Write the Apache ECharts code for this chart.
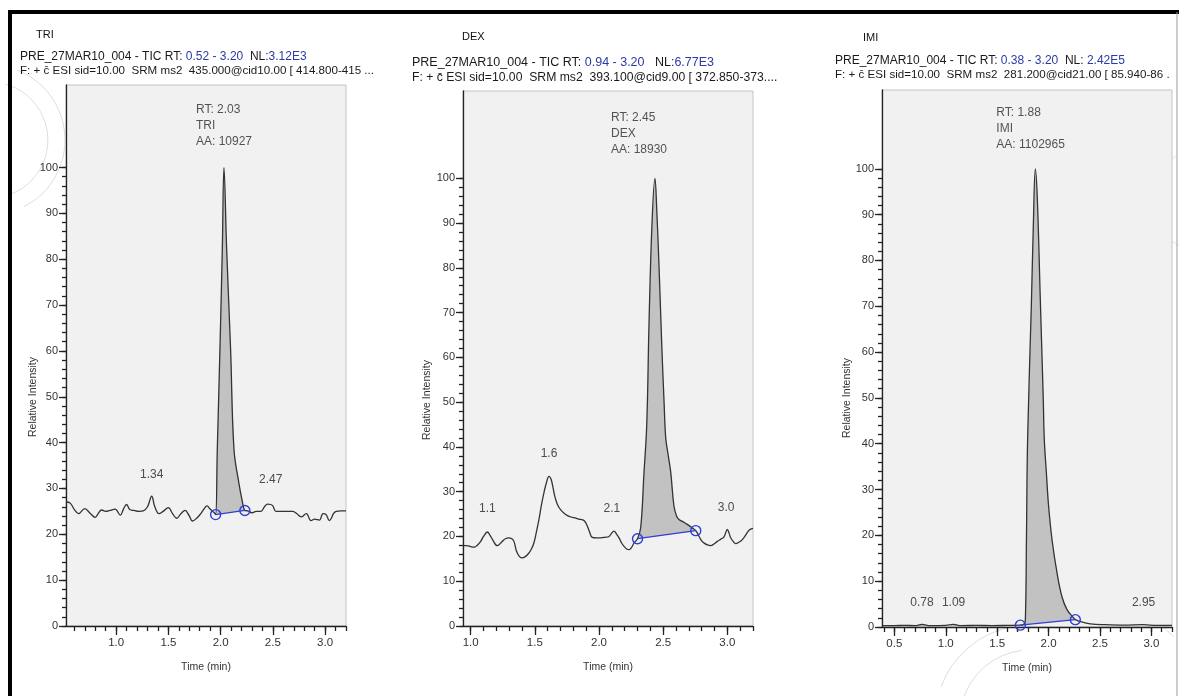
<!DOCTYPE html>
<html>
<head>
<meta charset="utf-8">
<script src="https://cdn.jsdelivr.net/npm/echarts@6/dist/echarts.min.js"></script>
<style>
html,body{margin:0;padding:0;background:#fff;}
#chart{width:1179px;height:696px;}
</style>
</head>
<body>
<div id="chart"></div>
<script>
// ---------------- DATA ----------------
// Tick labels
var triXLabels = [1.0, 1.5, 2.0, 2.5, 3.0];
var dexXLabels = [1.0, 1.5, 2.0, 2.5, 3.0];
var imiXLabels = [0.5, 1.0, 1.5, 2.0, 2.5, 3.0];
var yLabels = [0, 10, 20, 30, 40, 50, 60, 70, 80, 90, 100];

// TRI chromatogram [time(min), relative intensity]
var triTrace = [
  [0.52,27.1],[0.56,26.8],[0.60,25.4],[0.64,24.5],[0.70,25.6],[0.75,24.6],[0.80,23.7],[0.83,24.6],
  [0.86,25.3],[0.90,25.0],[0.94,25.2],[0.99,25.5],[1.04,24.2],[1.07,25.5],[1.10,26.5],[1.13,25.4],
  [1.17,25.2],[1.22,25.0],[1.26,25.1],[1.30,26.0],[1.34,28.3],[1.37,26.0],[1.41,24.5],[1.45,25.0],
  [1.50,25.8],[1.54,24.5],[1.58,23.5],[1.62,24.5],[1.66,25.2],[1.70,24.0],[1.73,22.9],[1.77,23.5],
  [1.81,24.5],[1.84,25.5],[1.87,26.2],[1.90,25.5],[1.935,24.8],[1.952,24.3],[1.968,38.5],[1.993,60],
  [2.016,82],[2.032,100],[2.058,82],[2.096,60],[2.128,38.5],[2.176,31],[2.205,27.5],[2.232,25.2],
  [2.26,25.1],[2.30,24.7],[2.34,25.0],[2.385,25.0],[2.42,26.0],[2.45,26.6],[2.48,26.5],[2.50,26.2],
  [2.53,25.0],[2.58,25.0],[2.64,25.0],[2.69,25.0],[2.73,24.5],[2.77,23.8],[2.82,24.5],[2.865,23.0],
  [2.90,23.3],[2.945,23.1],[2.98,24.5],[3.01,24.3],[3.04,23.0],[3.06,23.5],[3.08,24.5],[3.106,25.0],
  [3.15,25.1],[3.20,25.1]
];
var triBase = [[1.952,24.3],[2.232,25.2]];
var triPeakLabels = [{t:1.34, v:33, text:'1.34'}, {t:2.48, v:32, text:'2.47'}];
var triApex = [2.032, 100];
var triInfo = 'RT: 2.03\nTRI\nAA: 10927';

// DEX chromatogram
var dexTrace = [
  [0.94,18.0],[0.98,17.9],[1.026,17.6],[1.05,18.0],[1.078,18.9],[1.10,20.0],[1.13,21.0],[1.15,20.3],
  [1.17,19.3],[1.207,17.95],[1.246,18.9],[1.27,19.5],[1.298,19.7],[1.32,19.5],[1.337,18.9],[1.363,16.3],
  [1.40,15.2],[1.425,15.5],[1.454,16.3],[1.475,17.3],[1.493,18.6],[1.512,21.0],[1.532,23.8],[1.551,27.0],
  [1.571,29.8],[1.59,32.0],[1.61,33.4],[1.625,32.9],[1.636,31.7],[1.655,29.0],[1.675,27.2],[1.70,26.0],
  [1.74,24.9],[1.775,24.4],[1.805,24.2],[1.83,24.0],[1.857,23.8],[1.875,23.7],[1.896,23.1],[1.92,21.5],
  [1.948,19.8],[1.98,19.7],[2.013,19.7],[2.045,19.8],[2.078,20.0],[2.10,20.8],[2.117,21.2],[2.135,20.6],
  [2.156,19.7],[2.175,18.6],[2.195,17.8],[2.215,17.2],[2.234,17.05],[2.255,17.6],[2.273,18.55],[2.30,19.5],
  [2.325,22],[2.35,34],[2.372,45],[2.39,68],[2.413,90],[2.436,100],[2.45,93],[2.468,80],[2.49,62],
  [2.507,50],[2.52,42],[2.54,38],[2.559,34.3],[2.584,26.8],[2.605,24.5],[2.623,23.8],[2.66,23.2],
  [2.688,22.7],[2.727,21.9],[2.754,21.3],[2.779,20.05],[2.80,19.0],[2.818,18.55],[2.845,18.1],[2.87,17.95],
  [2.895,18.3],[2.922,18.9],[2.95,19.4],[2.974,19.9],[3.0,21.55],[3.013,20.8],[3.026,19.7],[3.045,18.9],
  [3.065,18.4],[3.09,18.7],[3.117,19.3],[3.145,20.4],[3.169,21.4],[3.20,21.8]
];
var dexBase = [[2.30,19.5],[2.754,21.3]];
var dexPeakLabels = [{t:1.13, v:26.1, text:'1.1'}, {t:1.61, v:38.4, text:'1.6'}, {t:2.10, v:26.1, text:'2.1'}, {t:2.99, v:26.5, text:'3.0'}];
var dexApex = [2.436, 100];
var dexInfo = 'RT: 2.45\nDEX\nAA: 18930';

// IMI chromatogram
var imiTrace = [
  [0.38,0.3],[0.5,0.3],[0.6,0.35],[0.7,0.3],[0.768,0.55],[0.85,0.3],[1.0,0.35],[1.076,0.55],
  [1.15,0.3],[1.3,0.35],[1.45,0.3],[1.6,0.35],[1.725,0.4],[1.76,0.6],[1.774,1.5],[1.785,20],
  [1.796,41],[1.832,70],[1.852,88],[1.871,100],[1.89,93.7],[1.919,71.8],[1.948,49.9],[1.958,41],
  [1.978,33.8],[2.0,26.4],[2.033,19.1],[2.082,11.8],[2.13,6.6],[2.179,3.8],[2.243,2.0],[2.26,1.6],
  [2.32,1.1],[2.406,0.7],[2.55,0.5],[2.73,0.4],[2.924,0.5],[3.05,0.35],[3.2,0.35]
];
var imiBase = [[1.725,0.4],[2.26,1.6]];
var imiPeakLabels = [{t:0.768, v:5.3, text:'0.78'}, {t:1.076, v:5.3, text:'1.09'}, {t:2.924, v:5.3, text:'2.95'}];
var imiApex = [1.871, 100];
var imiInfo = 'RT: 1.88\nIMI\nAA: 1102965';

// Header texts
var triHeader = ['TRI', 'PRE_27MAR10_004 - TIC RT: ', '0.52 - 3.20', '  NL:', '3.12E3',
  'F: + c\u0304 ESI sid=10.00  SRM ms2  435.000@cid10.00 [ 414.800-415 ...'];
var dexHeader = ['DEX', 'PRE_27MAR10_004 - TIC RT: ', '0.94 - 3.20', '   NL:', '6.77E3',
  'F: + c\u0304 ESI sid=10.00  SRM ms2  393.100@cid9.00 [ 372.850-373....'];
var imiHeader = ['IMI', 'PRE_27MAR10_004 - TIC RT: ', '0.38 - 3.20', '  NL: ', '2.42E5',
  'F: + c\u0304 ESI sid=10.00  SRM ms2  281.200@cid21.00 [ 85.940-86 .'];

// ---------------- LAYOUT ----------------
var FONT = '"Liberation Sans", Arial, sans-serif';
var minorX = [];
for (var k = 3; k <= 32; k++) minorX.push(k / 10);
var minorY = [];
for (var m = 0; m <= 100; m += 2) minorY.push(m);

var panels = [
  {grid:{left:66, top:85, width:280, height:541}, xMin:0.52, xMax:3.20, yMax:118, xLabels:triXLabels,
   trace:triTrace, base:triBase, peaks:triPeakLabels, apex:triApex, info:triInfo, infoOffset:[-28,-12],
   header:triHeader, hx:[36,20], hy:[35,57,71], yNameX:33, yNameY:397, hFont:[12, 11.6]},
  {grid:{left:463, top:91, width:290, height:535}, xMin:0.94, xMax:3.20, yMax:119.5, xLabels:dexXLabels,
   trace:dexTrace, base:dexBase, peaks:dexPeakLabels, apex:dexApex, info:dexInfo, infoOffset:[-44,-15],
   header:dexHeader, hx:[462,412], hy:[37,63,78], yNameX:427, yNameY:400, hFont:[12.5, 12.2]},
  {grid:{left:882, top:90, width:290, height:537}, xMin:0.38, xMax:3.20, yMax:117.2, xLabels:imiXLabels,
   trace:imiTrace, base:imiBase, peaks:imiPeakLabels, apex:imiApex, info:imiInfo, infoOffset:[-39,-11],
   header:imiHeader, hx:[863,835], hy:[38,61,75], yNameX:847, yNameY:398, hFont:[12, 11.6]}
];

var grids = [], xAxes = [], yAxes = [], series = [], graphics = [];
var axisColor = '#222';

panels.forEach(function (p, i) {
  grids.push({left:p.grid.left, top:p.grid.top, width:p.grid.width, height:p.grid.height,
    show:true, backgroundColor:'#f1f1f1', borderColor:'#c4c4c4', borderWidth:1});
  xAxes.push({gridIndex:i, type:'value', min:p.xMin, max:p.xMax, position:'bottom',
    axisLine:{show:true, onZero:false, lineStyle:{color:axisColor, width:1.3}},
    axisTick:{show:true, customValues:p.xLabels, length:9, lineStyle:{color:axisColor, width:1.3}},
    axisLabel:{show:true, customValues:p.xLabels, formatter:function(v){return Number(v).toFixed(1);},
      margin:11, fontSize:11.5, color:'#333', fontFamily:FONT},
    splitLine:{show:false},
    name:'Time (min)', nameLocation:'middle', nameGap:36,
    nameTextStyle:{fontSize:10.5, color:'#333', fontFamily:FONT}});
  xAxes.push({gridIndex:i, type:'value', min:p.xMin, max:p.xMax, position:'bottom',
    axisLine:{show:false}, axisLabel:{show:false}, splitLine:{show:false},
    axisTick:{show:true, customValues:minorX.filter(function(v){return v>=p.xMin && v<=p.xMax;}), length:5,
      lineStyle:{color:axisColor, width:1.3}}});
  yAxes.push({gridIndex:i, type:'value', min:0, max:p.yMax, position:'left',
    axisLine:{show:true, onZero:false, lineStyle:{color:axisColor, width:1.3}},
    axisTick:{show:true, customValues:yLabels, length:7, lineStyle:{color:axisColor, width:1.3}},
    axisLabel:{show:true, customValues:yLabels, margin:8, fontSize:11, color:'#333', fontFamily:FONT},
    splitLine:{show:false}});
  yAxes.push({gridIndex:i, type:'value', min:0, max:p.yMax, position:'left',
    axisLine:{show:false}, axisLabel:{show:false}, splitLine:{show:false},
    axisTick:{show:true, customValues:minorY, length:4, lineStyle:{color:axisColor, width:1.3}}});

  var xi = i * 2, yi = i * 2;
  (function (trace, base) {
    series.push({type:'custom', xAxisIndex:xi, yAxisIndex:yi, z:1, clip:true, silent:true,
      data:[base[0]],
      renderItem:function (params, api) {
        var pts = [];
        trace.forEach(function (d) {
          if (d[0] >= base[0][0] && d[0] <= base[1][0]) pts.push(api.coord(d));
        });
        pts.push(api.coord(base[1]));
        pts.push(api.coord(base[0]));
        return {type:'polygon', shape:{points:pts}, style:{fill:'#c2c2c2', stroke:null}};
      }});
  })(p.trace, p.base);
  series.push({type:'line', xAxisIndex:xi, yAxisIndex:yi, z:3, data:p.trace, showSymbol:false,
    smooth:0.4, lineStyle:{color:'#333', width:1.3}, silent:true});
  series.push({type:'line', xAxisIndex:xi, yAxisIndex:yi, z:4, data:p.base, symbol:'circle', symbolSize:10,
    showSymbol:true, lineStyle:{color:'#2d3fd6', width:1.2},
    itemStyle:{color:'rgba(0,0,0,0)', borderColor:'#2d3fd6', borderWidth:1.4}, silent:true});
  series.push({type:'scatter', xAxisIndex:xi, yAxisIndex:yi, z:5, symbolSize:1, silent:true,
    itemStyle:{color:'rgba(0,0,0,0)'},
    data:p.peaks.map(function (d) { return {value:[d.t, d.v], name:d.text}; }),
    label:{show:true, position:'inside', formatter:'{b}', fontSize:12, color:'#222', fontFamily:FONT}});
  series.push({type:'scatter', xAxisIndex:xi, yAxisIndex:yi, z:5, symbolSize:1, silent:true,
    itemStyle:{color:'rgba(0,0,0,0)'},
    data:[{value:p.apex, name:p.info}],
    label:{show:true, position:'top', align:'left', verticalAlign:'bottom', offset:p.infoOffset,
      formatter:'{b}', fontSize:12, lineHeight:16, color:'#2a2a2a', fontFamily:FONT}});

  var h = p.header;
  var f1 = p.hFont[0] + 'px ' + FONT, f2 = p.hFont[1] + 'px ' + FONT;
  graphics.push({type:'text', x:p.hx[0], y:p.hy[0], style:{text:h[0], font:'11px ' + FONT, fill:'#111',
    textVerticalAlign:'middle'}});
  graphics.push({type:'text', x:p.hx[1], y:p.hy[1], style:{
    text:'{a|' + h[1] + '}{b|' + h[2] + '}{a|' + h[3] + '}{b|' + h[4] + '}',
    textVerticalAlign:'middle', font:f1,
    rich:{a:{fill:'#1a1a1a', font:f1}, b:{fill:'#2b3aa6', font:f1}}}});
  graphics.push({type:'text', x:p.hx[1], y:p.hy[2], style:{text:h[5], font:f2, fill:'#1a1a1a',
    textVerticalAlign:'middle'}});
  graphics.push({type:'text', x:p.yNameX, y:p.yNameY, rotation:Math.PI / 2, style:{text:'Relative Intensity',
    font:'10.5px ' + FONT, fill:'#333', textAlign:'center', textVerticalAlign:'middle'}});
});

// faint scan artefact arcs (background decoration)
var arcStyle = {stroke:'#dedede', lineWidth:1, fill:null};
[
  {cx:-10, cy:140, r:58, s:-1.3, e:1.2}, {cx:-10, cy:140, r:75, s:-1.2, e:1.1},
  {cx:1030, cy:720, r:70, s:3.4, e:4.6}, {cx:1030, cy:720, r:95, s:3.5, e:4.5},
  {cx:1200, cy:200, r:50, s:2.0, e:4.2}, {cx:1200, cy:600, r:45, s:2.2, e:4.0}
].forEach(function (a) {
  graphics.push({type:'arc', z:-10, silent:true, shape:{cx:a.cx, cy:a.cy, r:a.r, startAngle:a.s, endAngle:a.e}, style:arcStyle});
});

// page frame
graphics.push({type:'line', shape:{x1:8, y1:12, x2:1179, y2:12}, style:{stroke:'#000', lineWidth:4}});
graphics.push({type:'line', shape:{x1:10, y1:10, x2:10, y2:696}, style:{stroke:'#000', lineWidth:4}});
graphics.push({type:'line', shape:{x1:1177, y1:12, x2:1177, y2:696}, style:{stroke:'#999', lineWidth:1}});

var chart = echarts.init(document.getElementById('chart'), null, {renderer:'canvas'});
chart.setOption({
  animation:false,
  backgroundColor:'#ffffff',
  grid:grids, xAxis:xAxes, yAxis:yAxes, series:series, graphic:graphics
});
</script>
</body>
</html>
